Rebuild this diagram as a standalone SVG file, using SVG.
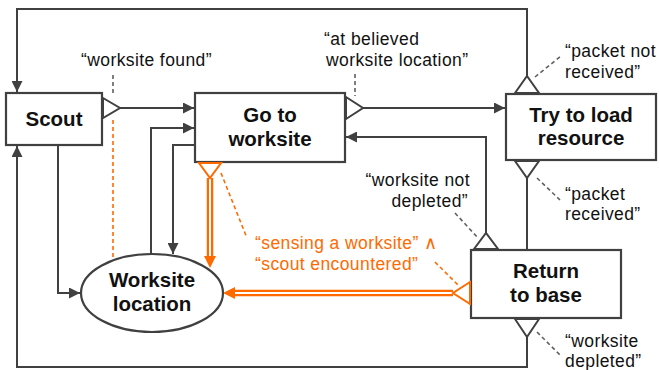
<svg xmlns="http://www.w3.org/2000/svg" width="659" height="370" viewBox="0 0 659 370">
<defs>
<marker id="ah" viewBox="0 0 10 10" refX="10" refY="5" markerWidth="11" markerHeight="11" markerUnits="userSpaceOnUse" orient="auto"><path d="M0,0 L10,5 L0,10 z" fill="#404040"/></marker>
<style>
.box{fill:#fff;stroke:#404040;stroke-width:2.2}
.ln{fill:none;stroke:#404040;stroke-width:2}
.port{fill:#fff;stroke:#404040;stroke-width:2}
.oport{fill:#fff;stroke:#ff6a00;stroke-width:2}
.dash{fill:none;stroke:#606060;stroke-width:1.6;stroke-dasharray:4 3}
.odash{fill:none;stroke:#ff6a00;stroke-width:1.6;stroke-dasharray:4 3}
.dbl{fill:none;stroke:#ff6a00;stroke-width:6.5}
.dblin{fill:none;stroke:#fff;stroke-width:2}
.oah{fill:#ff6a00}
.nl{font-family:"Liberation Sans",Arial,sans-serif;font-size:20.5px;font-weight:bold;fill:#111;text-anchor:middle}
.lb{font-family:"Liberation Sans",Arial,sans-serif;font-size:17.5px;letter-spacing:0.4px;fill:#111}
.ol{font-family:"Liberation Sans",Arial,sans-serif;font-size:17.5px;letter-spacing:0.4px;fill:#ff6a00}
</style>
</defs>
<g id="connectors">
<path class="ln" d="M527,76 V9 H17 V92" marker-end="url(#ah)"/>
<path class="ln" d="M120,108 H194" marker-end="url(#ah)"/>
<path class="ln" d="M363,108 H505" marker-end="url(#ah)"/>
<path class="ln" d="M527,178 V250"/>
<path class="ln" d="M486,233 V137 H346" marker-end="url(#ah)"/>
<path class="ln" d="M527,337 V367 H17 V146" marker-end="url(#ah)"/>
<path class="ln" d="M58,145 V293 H80" marker-end="url(#ah)"/>
<path class="ln" d="M151,254 V128 H194" marker-end="url(#ah)"/>
<path class="ln" d="M195,145 H173 V254" marker-end="url(#ah)"/>
<path class="dbl" d="M210,178 V258"/>
<path class="dblin" d="M210,178 V258"/>
<polygon class="oah" points="204,256 216,256 210,268"/>
<path class="dbl" d="M453,293 H233"/>
<path class="dblin" d="M453,293 H233"/>
<polygon class="oah" points="235,287 235,299 223,293"/>
<path class="odash" d="M113,120 V258"/>
<path class="dash" d="M113,75 V96"/>
<path class="dash" d="M355,74 V96"/>
<path class="dash" d="M535,77 L561,56"/>
<path class="dash" d="M537,178 L560,200"/>
<path class="dash" d="M455,213 L478,238"/>
<path class="dash" d="M537,332 L560,355"/>
<path class="odash" d="M221,173 L247,238"/>
<path class="odash" d="M435,262 L458,285"/>
</g>
<g id="scout">
<rect class="box" x="6" y="93" width="96" height="52"/>
<polygon class="port" points="103,98 120,108 103,118"/>
<text class="nl" x="54" y="126">Scout</text>
</g>
<g id="goto">
<rect class="box" x="195" y="93" width="150" height="69"/>
<polygon class="port" points="346,97 363,108 346,119"/>
<polygon class="oport" points="199,163 210,178 221,163"/>
<text class="nl" x="270" y="122">Go to</text>
<text class="nl" x="270" y="146">worksite</text>
</g>
<g id="tryload">
<rect class="box" x="506" y="94" width="150" height="66"/>
<polygon class="port" points="515,93 527,76 539,93"/>
<polygon class="port" points="515,161 527,178 539,161"/>
<text class="nl" x="581" y="122">Try to load</text>
<text class="nl" x="581" y="145">resource</text>
</g>
<g id="return">
<rect class="box" x="471" y="250" width="150" height="68"/>
<polygon class="port" points="474,249 486,233 498,249"/>
<polygon class="port" points="515,319 527,337 539,319"/>
<polygon class="oport" points="470,282 453,293 470,304"/>
<text class="nl" x="546" y="278">Return</text>
<text class="nl" x="546" y="302">to base</text>
</g>
<g id="worksite">
<ellipse class="box" cx="152" cy="293" rx="71" ry="39"/>
<text class="nl" x="152" y="287">Worksite</text>
<text class="nl" x="152" y="311">location</text>
</g>
<g id="labels">
<text class="lb" x="81" y="66">“worksite found”</text>
<text class="lb" x="324" y="45">“at believed</text>
<text class="lb" x="326" y="66">worksite location”</text>
<text class="lb" x="565" y="57">“packet not</text>
<text class="lb" x="565" y="78">received”</text>
<text class="lb" x="565" y="200">“packet</text>
<text class="lb" x="565" y="220">received”</text>
<text class="lb" x="470" y="186" text-anchor="end">“worksite not</text>
<text class="lb" x="468" y="207" text-anchor="end">depleted”</text>
<text class="lb" x="565" y="347">“worksite</text>
<text class="lb" x="565" y="367">depleted”</text>
<text class="ol" x="255" y="249">“sensing a worksite” ∧</text>
<text class="ol" x="255" y="270">“scout encountered”</text>
</g>
</svg>
